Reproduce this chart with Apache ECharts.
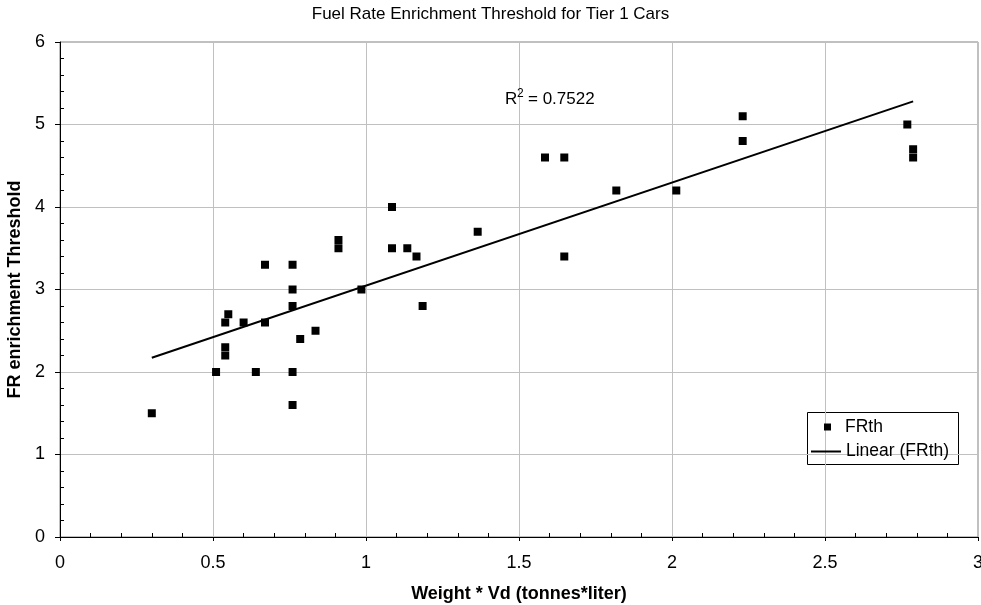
<!DOCTYPE html>
<html><head><meta charset="utf-8">
<script src="https://cdn.jsdelivr.net/npm/echarts@6/dist/echarts.min.js"></script>
<style>html,body{margin:0;padding:0;background:#fff}#c{width:981px;height:605px}</style>
</head><body><div id="c"></div>
<script>
const weights = [0.30,0.51,0.54,0.54,0.54,0.55,0.60,0.64,0.67,0.67,0.76,0.76,0.76,0.76,0.76,0.785,0.835,0.91,0.91,0.985,1.085,1.085,1.135,1.165,1.185,1.365,1.585,1.648,1.648,1.818,2.014,2.231,2.231,2.769,2.788,2.788];
const frth = [1.5,2.0,2.3,2.2,2.6,2.7,2.6,2.0,2.6,3.3,3.3,3.0,2.8,2.0,1.6,2.4,2.5,3.5,3.6,3.0,3.5,4.0,3.5,3.4,2.8,3.7,4.6,4.6,3.4,4.2,4.2,5.1,4.8,5.0,4.7,4.6];
const xTicks = [0,0.5,1,1.5,2,2.5,3];
const yTicks = [0,1,2,3,4,5,6];
const titleText = 'Fuel Rate Enrichment Threshold for Tier 1 Cars';
const xName = 'Weight * Vd (tonnes*liter)';
const yName = 'FR enrichment Threshold';
const r2Text = '0.7522';

// least squares trendline
const n = weights.length;
let sx=0,sy=0,sxx=0,sxy=0;
for(let i=0;i<n;i++){sx+=weights[i];sy+=frth[i];sxx+=weights[i]*weights[i];sxy+=weights[i]*frth[i];}
const slope=(n*sxy-sx*sy)/(n*sxx-sx*sx);
const icpt=(sy-slope*sx)/n;
const xmin=Math.min(...weights), xmax=Math.max(...weights);
const trend=[[xmin,icpt+slope*xmin],[xmax,icpt+slope*xmax]];

const F='Liberation Sans, Arial, sans-serif';
const chart = echarts.init(document.getElementById('c'));
chart.setOption({
  animation:false,
  title:{text:titleText,left:'center',top:6,padding:0,textStyle:{fontFamily:F,fontSize:17,fontWeight:'normal',color:'#000'}},
  grid:{left:60,right:3,top:42,bottom:68,containLabel:false,outerBoundsMode:'none',
        show:true,borderColor:'#808080',borderWidth:1,backgroundColor:'transparent'},
  xAxis:{type:'value',min:0,max:3,interval:0.5,
    name:xName,nameLocation:'middle',nameGap:48,
    nameTextStyle:{fontFamily:F,fontSize:18,fontWeight:'bold',color:'#000'},
    axisLine:{show:true,onZero:false,lineStyle:{color:'#000',width:1}},
    axisTick:{show:true,length:4,lineStyle:{color:'#000'}},
    minorTick:{show:true,splitNumber:5,length:-4,lineStyle:{color:'#000'}},
    splitLine:{show:true,lineStyle:{color:'#c0c0c0',width:1}},
    axisLabel:{fontFamily:F,fontSize:18,color:'#000',margin:17,formatter:v=>String(v)}},
  yAxis:{type:'value',min:0,max:6,interval:1,
    name:yName,nameLocation:'middle',nameGap:27,
    nameTextStyle:{fontFamily:F,fontSize:18,fontWeight:'bold',color:'#000'},
    axisLine:{show:true,onZero:false,lineStyle:{color:'#000',width:1}},
    axisTick:{show:true,length:5,lineStyle:{color:'#000'}},
    minorTick:{show:true,splitNumber:5,length:-4,lineStyle:{color:'#000'}},
    splitLine:{show:true,lineStyle:{color:'#c0c0c0',width:1}},
    axisLabel:{fontFamily:F,fontSize:18,color:'#000',margin:15}},
  legend:[
    {data:[{name:'FRth',icon:'rect'}],orient:'vertical',left:824,top:418,padding:0,itemWidth:7,itemHeight:7,itemGap:0,
     textStyle:{fontFamily:F,fontSize:17.5,color:'#000',padding:[0,0,0,9]}},
    {data:[{name:'Linear (FRth)',icon:'rect'}],orient:'vertical',left:811,top:442.5,padding:0,itemWidth:30,itemHeight:2,
     textStyle:{fontFamily:F,fontSize:17.5,color:'#000'}}
  ],
  graphic:[
    {type:'rect',shape:{x:807.5,y:412.5,width:151,height:52},style:{fill:'#fff',stroke:'#000',lineWidth:1},z:0},
    {type:'text',x:505,y:91,style:{text:'R',font:'17px Liberation Sans, Arial, sans-serif',fill:'#000'},z:10},
    {type:'text',x:517,y:87.5,style:{text:'2',font:'12px Liberation Sans, Arial, sans-serif',fill:'#000'},z:10},
    {type:'text',x:528,y:91,style:{text:'= '+r2Text,font:'17px Liberation Sans, Arial, sans-serif',fill:'#000'},z:10}
  ],
  series:[
    {name:'FRth',type:'scatter',symbol:'rect',symbolSize:8,itemStyle:{color:'#000',opacity:1},
     data:weights.map((w,i)=>[w,frth[i]]),z:3},
    {name:'Linear (FRth)',type:'line',data:trend,showSymbol:false,symbol:'none',
     lineStyle:{color:'#000',width:2},itemStyle:{color:'#000'},z:2}
  ]
});
</script></body></html>
